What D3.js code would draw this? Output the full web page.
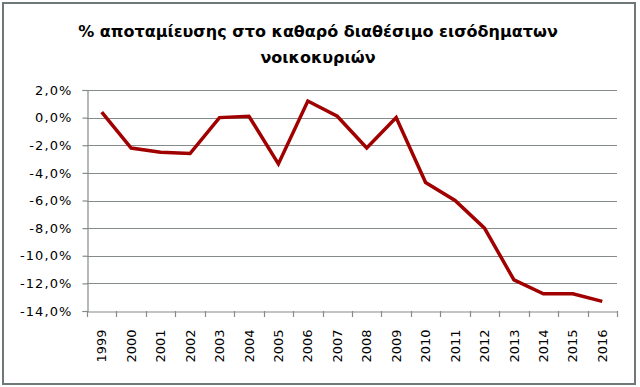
<!DOCTYPE html>
<html><head><meta charset="utf-8">
<script src="https://cdn.jsdelivr.net/npm/d3@7"></script>
<style>body{margin:0;background:#fff}svg{display:block}</style>
</head><body>
<svg id="c" width="640" height="387"></svg>
<script>
const titleLines = ["% αποταμίευσης στο καθαρό διαθέσιμο εισόδηματων", "νοικοκυριών"];
const years = ["1999","2000","2001","2002","2003","2004","2005","2006","2007","2008","2009","2010","2011","2012","2013","2014","2015","2016"];
const values = [0.4,-2.2,-2.5,-2.6,0.0,0.1,-3.35,1.2,0.1,-2.2,0.0,-4.7,-6.0,-8.0,-11.75,-12.75,-12.75,-13.3];
const yTicks = [2,0,-2,-4,-6,-8,-10,-12,-14];

(function(){
const svg = d3.select("#c");
svg.append("rect").attr("x",3).attr("y",3).attr("width",632).attr("height",381)
  .attr("fill","#fff").attr("stroke","#6e7878").attr("stroke-width",2);

const pL=87,pR=617,pT=90,pB=311;
const x = d3.scaleBand().domain(years).range([pL,pR]);
const y = d3.scaleLinear().domain([-14,2]).range([pB,pT]);

svg.append("g").selectAll("text").data(titleLines).join("text")
  .attr("x",318).attr("y",(d,i)=>37+i*26).attr("text-anchor","middle")
  .attr("font-family","DejaVu Sans").attr("font-weight","bold").attr("font-size",16)
  .attr("fill","#000").text(d=>d);

svg.append("g").selectAll("line").data(yTicks.filter(d=>d>-14)).join("line")
  .attr("x1",pL).attr("x2",pR).attr("y1",d=>Math.round(y(d))+0.5).attr("y2",d=>Math.round(y(d))+0.5)
  .attr("stroke","#858a8a").attr("stroke-width",1.2);

const fmt = d=> d3.format(".1f")(d).replace(".",",").replace("−","-")+"%";
const ya = svg.append("g").attr("transform",`translate(${pL+0.5},0)`)
  .call(d3.axisLeft(y).tickValues(yTicks).tickSize(5).tickPadding(10).tickFormat(fmt));
ya.selectAll("text").attr("font-family","DejaVu Sans").attr("font-size",13).attr("letter-spacing","1.1px").attr("fill","#000");
ya.selectAll("line,path").attr("stroke","#858a8a").attr("stroke-width",1.2);

const xa = svg.append("g").attr("transform",`translate(0,${Math.round(pB)+0.5})`)
  .call(d3.axisBottom(x).tickSize(0).tickFormat(d=>d));
xa.select("path").attr("stroke","#858a8a").attr("stroke-width",1.2);
xa.selectAll("text").attr("font-family","DejaVu Sans").attr("font-size",13).attr("fill","#000")
  .attr("transform","rotate(-90)").attr("text-anchor","end").attr("dy","0.35em").attr("x",-18).attr("y",0);
const bounds = years.map(d=>x(d)).concat([x(years[years.length-1])+x.bandwidth()]);
svg.append("g").selectAll("line").data(bounds).join("line")
  .attr("x1",d=>Math.round(d)+0.5).attr("x2",d=>Math.round(d)+0.5)
  .attr("y1",pB).attr("y2",pB+6).attr("stroke","#858a8a").attr("stroke-width",1.2);

const line = d3.line().x((d,i)=>x(years[i])+x.bandwidth()/2).y(d=>y(d));
svg.append("path").datum(values).attr("d",line).attr("fill","none")
  .attr("stroke","#a00000").attr("stroke-width",3.5).attr("stroke-linejoin","miter");
})();
</script>
</body></html>
